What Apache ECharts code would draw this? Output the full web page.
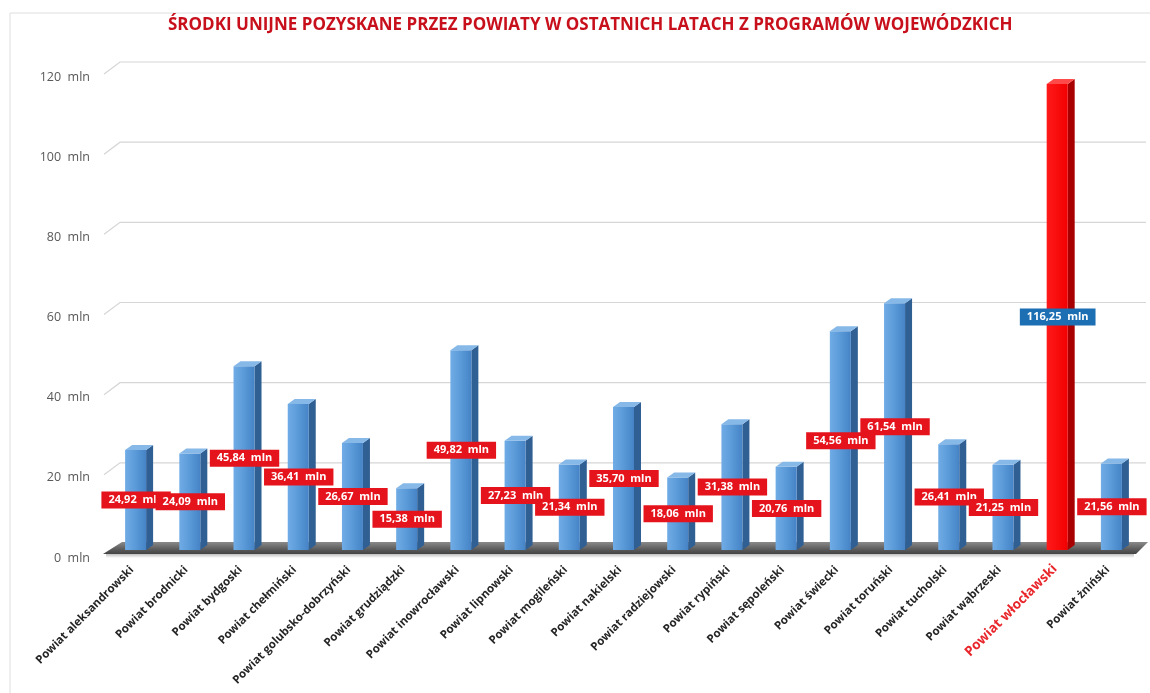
<!DOCTYPE html>
<html>
<head>
<meta charset="utf-8">
<script src="https://cdn.jsdelivr.net/npm/echarts@6/dist/echarts.min.js"></script>
<style>html,body{margin:0;padding:0;background:#fff;}#chart{width:1150px;height:693px;}</style>
</head>
<body>
<div id="chart"></div>
<script>
const titleText = 'ŚRODKI UNIJNE POZYSKANE PRZEZ POWIATY W OSTATNICH LATACH Z PROGRAMÓW WOJEWÓDZKICH';
const categories = [
  'Powiat aleksandrowski', 'Powiat brodnicki', 'Powiat bydgoski', 'Powiat chełmiński',
  'Powiat golubsko-dobrzyński', 'Powiat grudziądzki', 'Powiat inowrocławski', 'Powiat lipnowski',
  'Powiat mogileński', 'Powiat nakielski', 'Powiat radziejowski', 'Powiat rypiński',
  'Powiat sępoleński', 'Powiat świecki', 'Powiat toruński', 'Powiat tucholski',
  'Powiat wąbrzeski', 'Powiat włocławski', 'Powiat żniński'
];
const values = [24.92, 24.09, 45.84, 36.41, 26.67, 15.38, 49.82, 27.23, 21.34, 35.70,
  18.06, 31.38, 20.76, 54.56, 61.54, 26.41, 21.25, 116.25, 21.56];
const highlighted = 'Powiat włocławski';
const yTicks = [0, 20, 40, 60, 80, 100, 120];

const FRONT = 7;      // front plane offset (px) below back wall
const FW = 21;        // front face width
const DX = 7, DY = 5; // depth

const chart = echarts.init(document.getElementById('chart'));

function fmt(v) { return v.toFixed(2).replace('.', ',') + '  mln'; }

function barItem(params, api) {
  const i = api.value(0), v = api.value(1);
  const top = api.coord([i, v]);
  const base = api.coord([i, 0]);
  const c = top[0];
  const yT = top[1] + FRONT, yB = base[1] + FRONT;
  const x0 = c - 14, x1 = x0 + FW;
  const hot = categories[i] === highlighted;
  const front = hot
    ? new echarts.graphic.LinearGradient(0, 0, 1, 0, [{offset: 0, color: '#ff1a1a'}, {offset: 1, color: '#f20000'}])
    : new echarts.graphic.LinearGradient(0, 0, 1, 0, [{offset: 0, color: '#70ace6'}, {offset: 0.5, color: '#5a9ad8'}, {offset: 1, color: '#4583c6'}]);
  const side = hot ? '#a80000' : '#2f5f93';
  const topC = hot ? '#ff4a4a' : '#86b8e8';
  return {
    type: 'group',
    children: [
      {type: 'polygon', shape: {points: [[x1, yT], [x1 + DX, yT - DY], [x1 + DX, yB - DY], [x1, yB]]}, style: {fill: side}},
      {type: 'rect', shape: {x: x0, y: yT, width: FW, height: yB - yT}, style: {fill: front}},
      {type: 'polygon', shape: {points: [[x0, yT], [x0 + DX, yT - DY], [x1 + DX, yT - DY], [x1, yT]]}, style: {fill: topC}}
    ]
  };
}

function floorItem(params, api) {
  const cs = params.coordSys;
  const yBack = cs.y + cs.height - 1;
  const yFront = yBack + 12;
  const L = cs.x, R = cs.x + cs.width;
  return {
    type: 'group',
    children: [
      {type: 'rect', shape: {x: L - 6, y: yFront, width: R - L - 2, height: 4},
        style: {fill: new echarts.graphic.LinearGradient(0, 0, 0, 1, [{offset: 0, color: 'rgba(0,0,0,0.25)'}, {offset: 1, color: 'rgba(0,0,0,0)'}])}},
      {type: 'polygon', shape: {points: [[L + 10, yBack], [R + 6, yBack], [R - 6, yFront], [L - 9, yFront]]},
        style: {fill: new echarts.graphic.LinearGradient(0, 0, 0, 1, [{offset: 0, color: '#8a8a8a'}, {offset: 0.6, color: '#5c5c5c'}, {offset: 1, color: '#444444'}])}}
    ]
  };
}

function gridItem(params, api) {
  const cs = params.coordSys;
  const t = api.value(0);
  if (t === 0) return null;
  const y = api.coord([0, t])[1];
  return {
    type: 'polyline',
    shape: {points: [[cs.x - 8, y + 12], [cs.x + 8, y], [cs.x + cs.width + 4, y]]},
    style: {stroke: '#d6d6d6', lineWidth: 1.2, fill: null}
  };
}

const option = {
  animation: false,
  backgroundColor: '#ffffff',
  title: {
    text: titleText,
    left: 163,
    top: 12,
    textStyle: {color: '#c8101c', fontFamily: 'Open Sans', fontWeight: 'bold', fontSize: 17}
  },
  graphic: [
    {type: 'polyline', silent: true, shape: {points: [[10, 700], [10, 13], [1160, 13]]}, style: {stroke: '#dedede', lineWidth: 1, fill: null}}
  ],
  grid: {left: 112, right: 8, top: 62, bottom: 150},
  xAxis: {
    type: 'category',
    data: categories,
    axisLine: {show: false},
    axisTick: {show: false},
    axisLabel: {
      interval: 0,
      rotate: 45,
      margin: 18,
      formatter: function (v) { return v === highlighted ? '{hot|' + v + '}' : '{n|' + v + '}'; },
      rich: {
        n: {fontFamily: 'Open Sans', fontWeight: 'bold', fontSize: 11.5, color: '#262626', padding: [0, 10, 0, 0]},
        hot: {fontFamily: 'Open Sans', fontWeight: 'bold', fontSize: 13.5, color: '#e8262b', padding: [0, 8, 0, 0]}
      }
    }
  },
  yAxis: {
    type: 'value',
    min: 0,
    max: 120,
    interval: 20,
    axisLine: {show: false},
    axisTick: {show: false},
    splitLine: {show: false},
    axisLabel: {
      formatter: '{value}  mln',
      margin: 22,
      verticalAlign: 'top',
      lineHeight: 30,
      fontFamily: 'Open Sans',
      fontSize: 12.5,
      color: '#595959'
    }
  },
  series: [
    {
      type: 'custom',
      name: 'grid',
      silent: true,
      z: 1,
      renderItem: gridItem,
      data: yTicks.map(t => [t]),
      encode: {y: 0}
    },
    {
      type: 'custom',
      name: 'floor',
      silent: true,
      z: 2,
      renderItem: floorItem,
      data: [[0, 0]],
      encode: {x: 0, y: 1}
    },
    {
      type: 'custom',
      name: 'bars',
      silent: true,
      z: 3,
      renderItem: barItem,
      data: values.map((v, i) => [i, v]),
      encode: {x: 0, y: 1}
    },
    {
      type: 'bar',
      name: 'labels',
      silent: true,
      z: 5,
      barWidth: FW,
      itemStyle: {color: 'rgba(0,0,0,0)'},
      data: values.map((v, i) => ({
        value: v,
        label: categories[i] === highlighted ? {backgroundColor: '#1c6fb3'} : {}
      })),
      label: {
        show: true,
        position: 'inside',
        offset: [-3, FRONT],
        formatter: p => fmt(p.value),
        backgroundColor: '#e5141c',
        color: '#ffffff',
        fontFamily: 'Open Sans',
        fontWeight: 'bold',
        fontSize: 11,
        padding: [3, 7, 3, 7]
      }
    }
  ]
};
chart.setOption(option);
</script>
</body>
</html>
